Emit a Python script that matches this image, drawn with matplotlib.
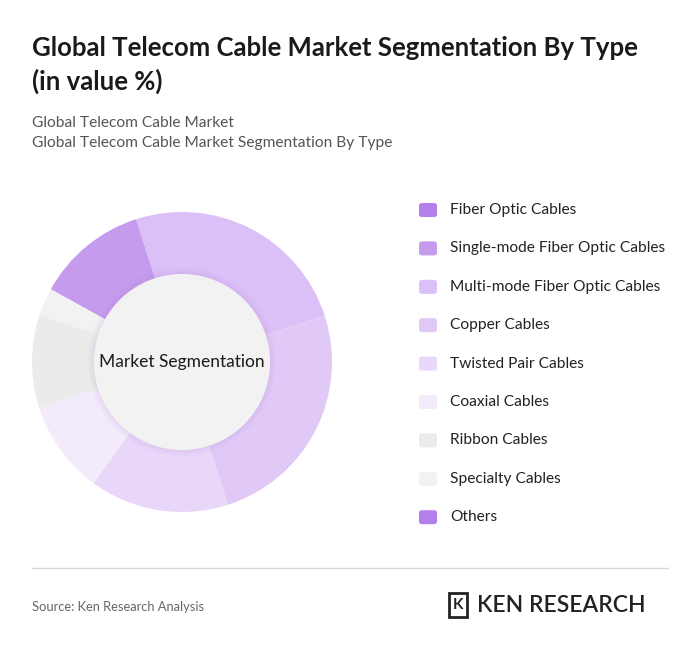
import matplotlib
matplotlib.use("Agg")
import matplotlib.pyplot as plt
from matplotlib.patches import Circle, Rectangle, FancyBboxPatch
from matplotlib.lines import Line2D

plt.rcParams['font.family'] = ['Lato', 'DejaVu Sans']

categories = ["Fiber Optic Cables", "Single-mode Fiber Optic Cables", "Multi-mode Fiber Optic Cables",
              "Copper Cables", "Twisted Pair Cables", "Coaxial Cables", "Ribbon Cables",
              "Specialty Cables", "Others"]
values = [0, 12, 25, 25, 15, 10, 10, 3, 0]
colors = ["#b37fea", "#c59bee", "#dbbff7", "#e0c9f7", "#e9d7fa", "#f3eafc", "#ebebeb", "#f2f2f2", "#b37fea"]

W, H = 700, 653
fig = plt.figure(figsize=(7, 6.53), dpi=100)
fig.patch.set_facecolor("white")

def fx(x): return x / W
def fy(y): return 1 - y / H

fig.text(fx(32), fy(48), "Global Telecom Cable Market Segmentation By Type", fontsize=18.5,
         fontweight="bold", color="#1a1a1a", va="center")
fig.text(fx(32), fy(81), "(in value %)", fontsize=18.5, fontweight="bold", color="#1a1a1a", va="center")
fig.text(fx(32), fy(123), "Global Telecom Cable Market", fontsize=11.2, color="#555555", va="center")
fig.text(fx(32), fy(143), "Global Telecom Cable Market Segmentation By Type", fontsize=11.2, color="#555555", va="center")

# donut
cx, cy, R = 182, 362, 150
ax = fig.add_axes([fx(cx - R), fy(cy + R), 2 * R / W, 2 * R / H])
ax.axis("off")
start = 90 + 61
ax.pie(values, colors=colors, startangle=start, counterclock=False, radius=1,
       wedgeprops=dict(linewidth=0))
ax.set_xlim(-1, 1); ax.set_ylim(-1, 1); ax.set_aspect("equal")
for r, a in [(0.63, 0.04), (0.615, 0.05), (0.60, 0.06)]:
    ax.add_patch(Circle((0, 0), r, color="#b080d0", alpha=a, lw=0))
ax.add_patch(Circle((0, 0), 0.587, color="#f2f2f2", lw=0))
ax.text(0, 0, "Market Segmentation", ha="center", va="center", fontsize=12.5, color="#1a1a1a")

# legend
for i, (c, col) in enumerate(zip(categories, colors)):
    y = 210 + i * 38.4
    fig.patches.append(FancyBboxPatch((fx(419), fy(y + 7)), 18 / W, 14 / H,
                                      boxstyle="round,pad=0,rounding_size=0.004",
                                      transform=fig.transFigure, color=col, lw=0))
    fig.text(fx(450), fy(y), c, fontsize=11.2, color="#222222", va="center")

fig.add_artist(Line2D([fx(32), fx(668)], [fy(568), fy(568)], color="#d9d9d9", lw=1))
fig.text(fx(32), fy(607), "Source: Ken Research Analysis", fontsize=9.3, color="#666666", va="center")
fig.text(fx(477), fy(605), "KEN RESEARCH", fontsize=16.5, fontweight="semibold", color="#222222", va="center")
fig.patches.append(Rectangle((fx(449), fy(617)), 18 / W, 24 / H, transform=fig.transFigure,
                             fill=False, ec="#222222", lw=2))
fig.text(fx(458), fy(605), "K", fontsize=11, fontweight="bold", color="#222222", va="center", ha="center")

fig.savefig("out.png", dpi=100, facecolor="white")
